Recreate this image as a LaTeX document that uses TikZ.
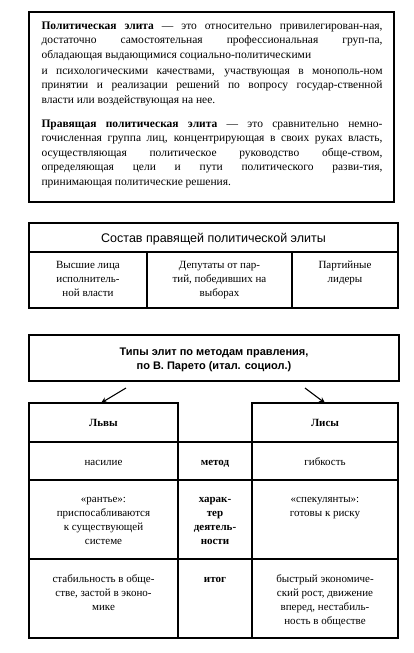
\documentclass[tikz,border=0pt]{standalone}
\usepackage{fontspec}
\setmainfont{Liberation Serif}
\setsansfont{Liberation Sans}
\usetikzlibrary{arrows.meta}
\newcommand\justline[1]{\makebox[341pt][s]{#1}}
\newcommand\firststrut{\rule{0pt}{9pt}}
\begin{document}
\begin{tikzpicture}[x=1pt,y=-1pt,line width=1.1pt,
  body/.style={font=\fontsize{11.5}{14.5}\selectfont,inner sep=0pt,anchor=base west},
  cell/.style={font=\fontsize{11}{14}\selectfont,inner sep=0pt,anchor=north,align=center},
  celltxt/.style={font=\fontsize{11}{14}\selectfont,inner sep=0pt,anchor=base},
  head/.style={font=\sffamily\fontsize{12.5}{14}\selectfont,inner sep=0pt,anchor=base},
  title/.style={font=\sffamily\bfseries\fontsize{11}{14}\selectfont,inner sep=0pt,anchor=north,align=center},
  arr/.style={line width=1.1pt,-{Stealth[length=6pt,width=5.5pt]}}]
\useasboundingbox (0,0) rectangle (413,653);

% ---------- definitions box ----------
\draw (29,12) rectangle (394,202);
\node[body] (t1) at (41,29) {\justline{\textbf{Политическая элита} — это относительно привилегирован-ная,}};
\node[body] (t2) at (41,43.5) {\justline{достаточно самостоятельная профессиональная груп-па,}};
\node[body] (t3) at (41,58) {обладающая выдающимися социально-политическими};
\node[body] (t4) at (41,74) {\justline{и психологическими качествами, участвующая в монополь-ном}};
\node[body] (t5) at (41,88.5) {\justline{принятии и реализации решений по вопросу государ-ственной}};
\node[body] (t6) at (41,103) {власти или воздействующая на нее.};
\node[body] (t7) at (41,127) {\justline{\textbf{Правящая политическая элита} — это сравнительно немно-}};
\node[body] (t8) at (41,141.5) {\justline{гочисленная группа лиц, концентрирующая в своих руках власть,}};
\node[body] (t9) at (41,156) {\justline{осуществляющая политическое руководство обще-ством,}};
\node[body] (t10) at (41,170.5) {\justline{определяющая цели и пути политического разви-тия,}};
\node[body] (t11) at (41,185) {принимающая политические решения.};

% ---------- composition box ----------
\draw (29,223) rectangle (398,308);
\draw (29,252) -- (398,252);
\draw (147,252) -- (147,308);
\draw (292,252) -- (292,308);
\node[head] (sostav) at (213.5,242.5) {Состав правящей политической элиты};
\node[cell] (c1) at (88,259) {\firststrut Высшие лица\\исполнитель-\\ной власти};
\node[cell] (c2) at (219.5,259) {\firststrut Депутаты от пар-\\тий, победивших на\\выборах};
\node[cell] (c3) at (345,259) {\firststrut Партийные\\лидеры};

% ---------- Pareto ----------
\draw (29,335) rectangle (399,381);
\node[title] (types) at (214,346) {\rule{0pt}{8.5pt}Типы элит по методам правления,\\по В. Парето (итал. социол.)};

\draw (29,403) rectangle (178,638);
\draw (252,403) rectangle (398,638);
\foreach \yy in {442,480,559,638} \draw (29,\yy) -- (398,\yy);

\coordinate (a1s) at (126,388);
\coordinate (a1e) at (101,403);
\coordinate (a2s) at (305,388);
\coordinate (a2e) at (325,403);
\draw[arr] (a1s) -- (a1e);
\draw[arr] (a2s) -- (a2e);

\node[celltxt,font=\bfseries\fontsize{11}{14}\selectfont] (lions) at (103.5,426.5) {Львы};
\node[celltxt,font=\bfseries\fontsize{11}{14}\selectfont] (foxes) at (325,426.5) {Лисы};

\node[celltxt] (m1) at (103.5,465) {насилие};
\node[celltxt,font=\bfseries\fontsize{11}{14}\selectfont] (m2) at (215,465) {метод};
\node[celltxt] (m3) at (325,465) {гибкость};

\node[cell] (h1) at (103.5,493) {\firststrut «рантье»:\\приспосабливаются\\к существующей\\системе};
\node[cell,font=\bfseries\fontsize{11}{14}\selectfont] (h2) at (215,493) {\firststrut харак-\\тер\\деятель-\\ности};
\node[cell] (h3) at (325,493) {\firststrut «спекулянты»:\\готовы к риску};

\node[cell] (r1) at (103.5,573) {\firststrut стабильность в обще-\\стве, застой в эконо-\\мике};
\node[cell,font=\bfseries\fontsize{11}{14}\selectfont] (r2) at (215,573) {\firststrut итог};
\node[cell] (r3) at (325,573) {\firststrut быстрый экономиче-\\ский рост, движение\\вперед, нестабиль-\\ность в обществе};
\end{tikzpicture}
\end{document}
